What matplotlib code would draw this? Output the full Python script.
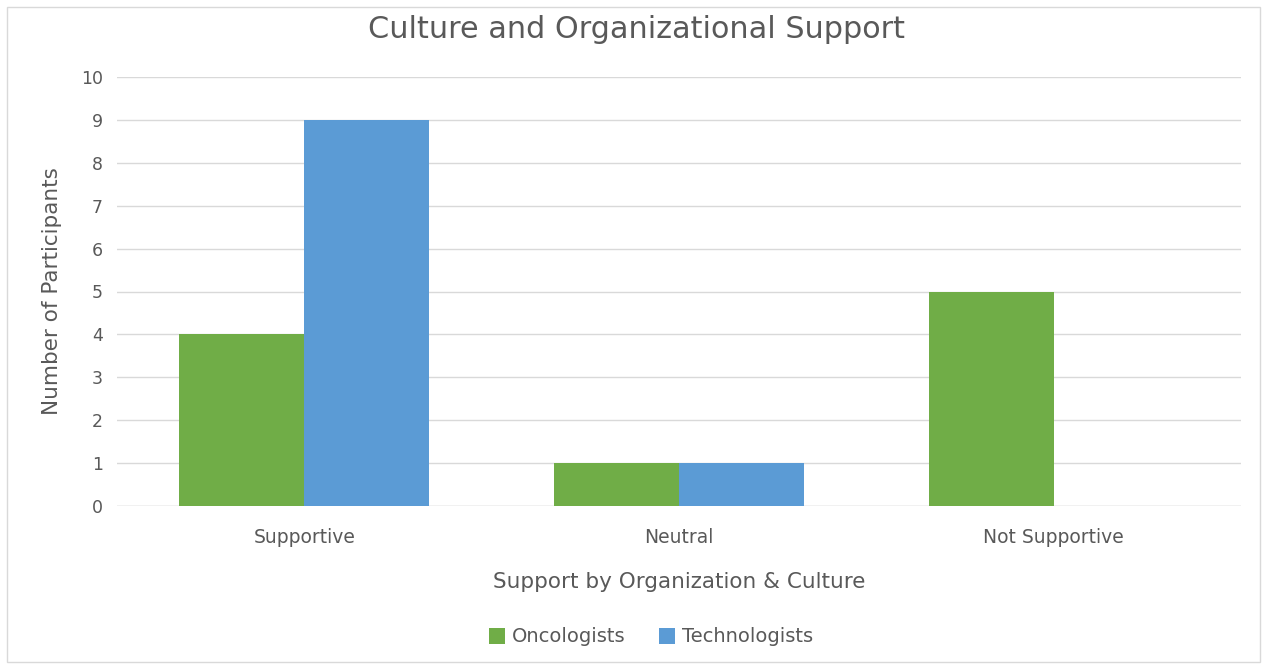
import matplotlib
matplotlib.use("Agg")
import matplotlib.pyplot as plt
import numpy as np
from matplotlib.patches import Rectangle

categories = ["Supportive", "Neutral", "Not Supportive"]
oncologists = [4, 1, 5]
technologists = [9, 1, 0]
series_names = ["Oncologists", "Technologists"]
yticks = list(range(0, 11))

plt.rcParams['font.family'] = ['DejaVu Sans']
TXT = "#595959"
GREEN = "#70ad47"
BLUE = "#5b9bd5"

fig = plt.figure(figsize=(12.66, 6.7), dpi=100)
fig.patches.append(Rectangle((7/1266, 8/670), 1253/1266, 655/670, transform=fig.transFigure,
                             fill=False, edgecolor="#d9d9d9", linewidth=1))
ax = fig.add_axes([117/1266, 164/670, 1124/1266, 429/670])

x = np.arange(len(categories))
w = 1/3
ax.bar(x - w/2, oncologists, w, color=GREEN, label=series_names[0], zorder=3)
ax.bar(x + w/2, technologists, w, color=BLUE, label=series_names[1], zorder=3)

ax.set_xlim(-0.5, 2.5)
ax.set_ylim(0, 10)
ax.set_yticks(yticks)
ax.set_xticks(x)
ax.set_xticklabels(categories)
ax.grid(axis='y', color="#d9d9d9", linewidth=1, zorder=0)
for s in ax.spines.values():
    s.set_visible(False)
ax.axhline(0, color="#d9d9d9", linewidth=1, zorder=2)
ax.tick_params(axis='y', length=0, colors=TXT, labelsize=12.5, pad=10)
ax.tick_params(axis='x', length=0, colors=TXT, labelsize=13.5, pad=16)

fig.text(637/1266, 1 - 30/670, "Culture and Organizational Support", color=TXT, fontsize=21.8,
         ha='center', va='center')
ax.set_ylabel("Number of Participants", color=TXT, fontsize=15.5, labelpad=14)
ax.set_xlabel("Support by Organization & Culture", color=TXT, fontsize=15.5, labelpad=18)

leg = fig.legend(loc='center', bbox_to_anchor=(651/1266, 1 - 637/670), ncol=2, frameon=False,
                 fontsize=14, handlelength=0.85, handleheight=0.85, handletextpad=0.35,
                 columnspacing=1.7)
for t in leg.get_texts():
    t.set_color(TXT)

fig.savefig("out.png", dpi=100)
